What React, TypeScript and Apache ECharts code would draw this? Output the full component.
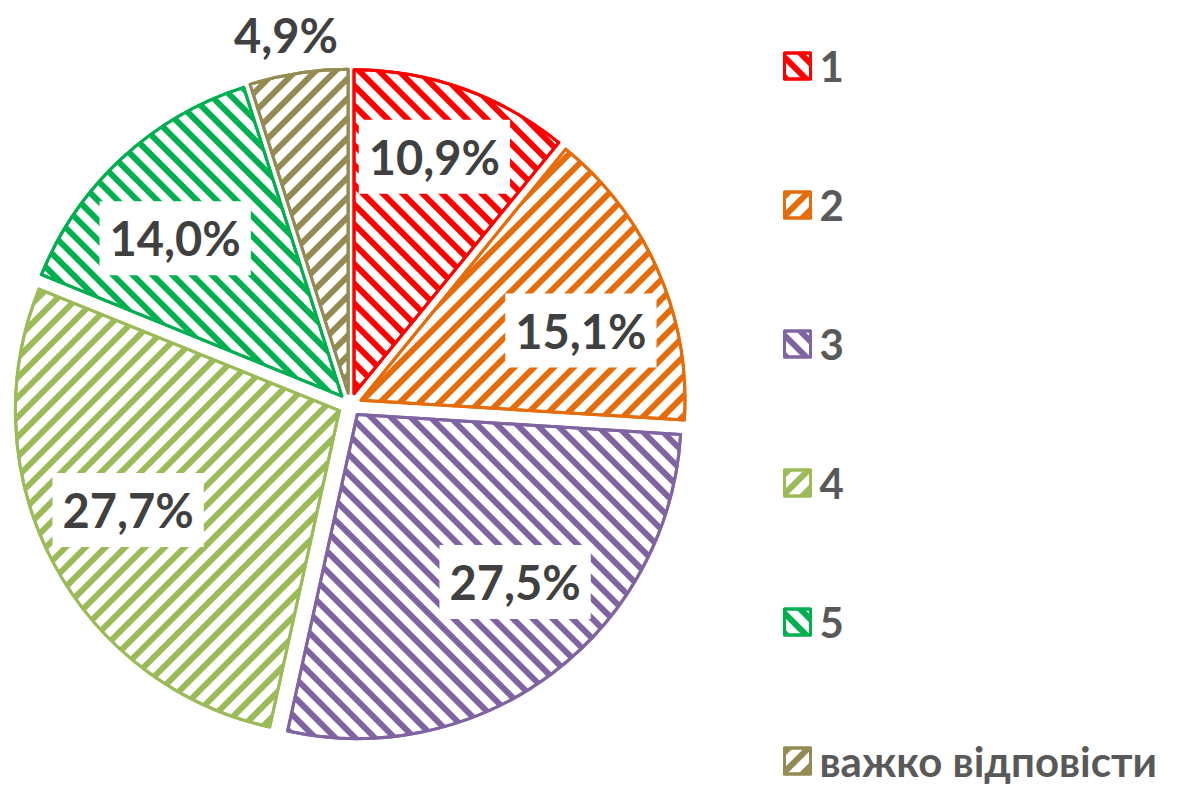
import React, { useEffect, useRef } from "react";
import * as echarts from "echarts";

const categories = ["1", "2", "3", "4", "5", "важко відповісти"];
const values = [10.9, 15.1, 27.5, 27.7, 14.0, 4.9];
const labelTexts = ["10,9%", "15,1%", "27,5%", "27,7%", "14,0%", "4,9%"];
const colors = ["#FF0000", "#E46C0A", "#8064A2", "#9BBB59", "#00B050", "#948A54"];
// label nudges (style only), in pixels
const labelOffsets = [
  [-22, -20],
  [13, 46],
  [31, 1],
  [-34, 2],
  [5, 23],
  [-13, -128],
];

const FONT = "Lato, 'Open Sans', sans-serif";
const CENTER = [350, 405];
const R = 324;
const OFFSET = 12;

function decalFor(i: number) {
  return {
    color: colors[i],
    symbol: "rect",
    symbolSize: 1,
    dashArrayX: [1, 0],
    dashArrayY: [6, 8],
    rotation: i % 2 === 0 ? Math.PI / 4 : -Math.PI / 4,
  };
}

export default function App() {
  const ref = useRef<HTMLDivElement>(null);
  useEffect(() => {
    if (!ref.current) return;
    const chart = echarts.init(ref.current, undefined, { renderer: "svg" });

    const sliceStyle = (i: number) => ({
      color: "#FFFFFF",
      borderColor: colors[i],
      borderWidth: 3,
      decal: decalFor(i),
    });

    const mainData = categories.map((name, i) => ({
      name,
      value: values[i],
      selected: true,
      itemStyle: sliceStyle(i),
      select: { itemStyle: sliceStyle(i) },
    }));

    const baseLabel = {
      show: true,
      position: "inside",
      fontFamily: FONT,
      fontWeight: "bold",
      fontSize: 47,
      lineHeight: 46,
      color: "#404040",
      backgroundColor: "#FFFFFF",
      padding: [14, 10],
    };

    const labelData = categories.map((name, i) => {
      const lbl: any = { ...baseLabel, formatter: labelTexts[i], offset: labelOffsets[i] };
      if (i === 5) {
        lbl.backgroundColor = "transparent";
      }
      return {
        name,
        value: values[i],
        selected: true,
        label: lbl,
        select: { label: lbl, itemStyle: { color: "transparent", borderWidth: 0 } },
      };
    });

    chart.setOption({
      animation: false,
      backgroundColor: "#FFFFFF",
      legend: {
        orient: "vertical",
        left: 778,
        top: 40,
        height: 745,
        itemWidth: 26,
        itemHeight: 26,
        itemGap: 97,
        icon: "rect",
        data: categories,
        selectedMode: false,
        itemStyle: { borderWidth: 3 },
        textStyle: {
          fontFamily: FONT,
          fontWeight: "bold",
          fontSize: 42,
          color: "#595959",
          padding: [0, 0, 0, 4],
        },
      },
      series: [
        {
          type: "pie",
          center: CENTER,
          radius: [0, R],
          startAngle: 90,
          clockwise: true,
          selectedMode: "multiple",
          selectedOffset: OFFSET,
          silent: true,
          label: { show: false },
          labelLine: { show: false },
          emphasis: { disabled: true },
          data: mainData,
        },
        {
          type: "pie",
          center: CENTER,
          radius: [142, R],
          startAngle: 90,
          clockwise: true,
          selectedMode: "multiple",
          selectedOffset: OFFSET,
          silent: true,
          itemStyle: { color: "transparent", borderWidth: 0 },
          labelLine: { show: false },
          emphasis: { disabled: true },
          data: labelData,
        },
      ],
    });
    return () => chart.dispose();
  }, []);
  return (
    <div
      ref={ref}
      style={{ position: "fixed", left: 0, top: 0, width: 1179, height: 785 }}
    />
  );
}
